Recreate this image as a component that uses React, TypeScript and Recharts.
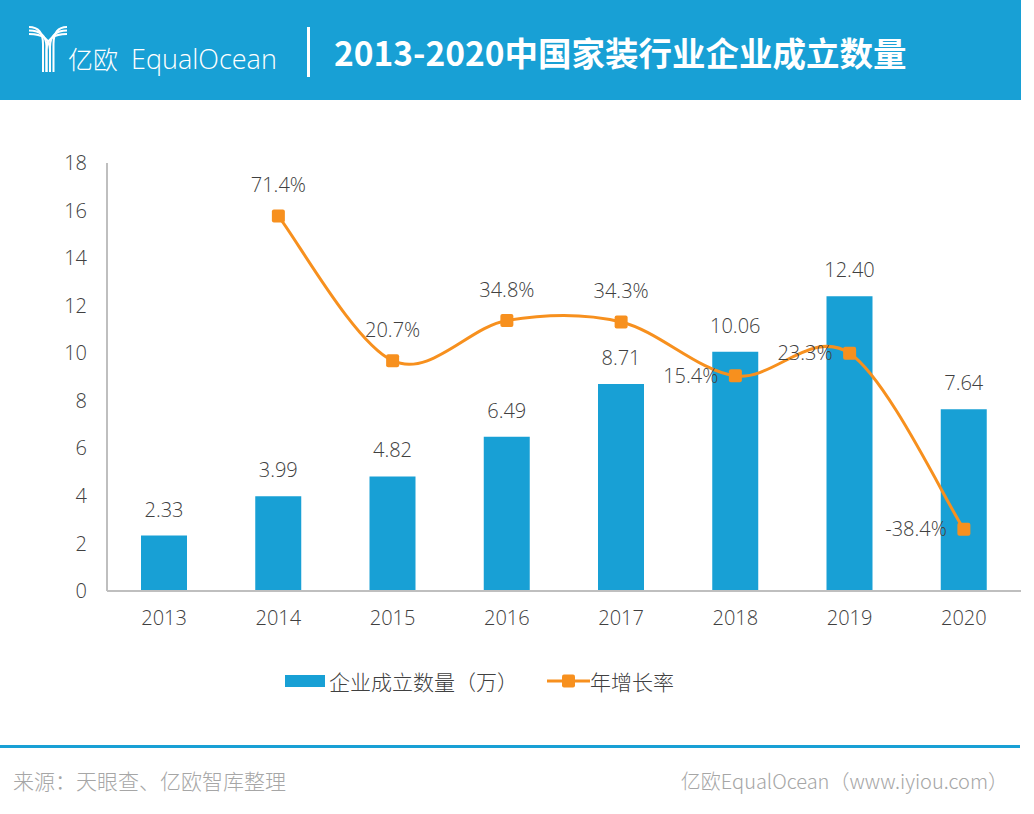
import React from "react";
import {
  Bar,
  ComposedChart,
  LabelList,
  Line,
  XAxis,
  YAxis,
} from "recharts";

const years = ["2013", "2014", "2015", "2016", "2017", "2018", "2019", "2020"];
const companyCounts = [2.33, 3.99, 4.82, 6.49, 8.71, 10.06, 12.4, 7.64];
const growthRates = [null, 71.4, 20.7, 34.8, 34.3, 15.4, 23.3, -38.4];
const countTicks = [0, 2, 4, 6, 8, 10, 12, 14, 16, 18];

const BLUE = "#18a0d5";
const ORANGE = "#f7901e";
const TEXT = "#404040";
const NUM_FONT = "'Open Sans', 'Noto Sans CJK SC', sans-serif";
const CJK_FONT = "'Noto Sans CJK SC', 'Open Sans', sans-serif";

// rate labels drawn to the left of the point instead of above
const leftLabelYears = ["2018", "2019", "2020"];

const data = years.map((year, i) => ({
  year,
  count: companyCounts[i],
  rate: growthRates[i],
}));

// Catmull-Rom style smoothing, close to Excel's "smoothed line"
const smoothCurve = (context: any) => {
  let pts: number[][] = [];
  return {
    areaStart() {},
    areaEnd() {},
    lineStart() {
      pts = [];
    },
    point(x: number, y: number) {
      pts.push([+x, +y]);
    },
    lineEnd() {
      if (!pts.length) return;
      context.moveTo(pts[0][0], pts[0][1]);
      for (let i = 0; i < pts.length - 1; i++) {
        const p0 = pts[i - 1] || pts[i];
        const p1 = pts[i];
        const p2 = pts[i + 1];
        const p3 = pts[i + 2] || p2;
        context.bezierCurveTo(
          p1[0] + (p2[0] - p0[0]) / 6,
          p1[1] + (p2[1] - p0[1]) / 6,
          p2[0] - (p3[0] - p1[0]) / 6,
          p2[1] - (p3[1] - p1[1]) / 6,
          p2[0],
          p2[1]
        );
      }
    },
  };
};

const SquareDot = (props: any) => {
  const { cx, cy, value } = props;
  if (value == null || cx == null || cy == null) return null;
  return <rect x={cx - 6.5} y={cy - 6.5} width={13} height={13} rx={2} fill={ORANGE} />;
};

const RateLabel = (props: any) => {
  const { x, y, value, index } = props;
  if (value == null) return null;
  const left = leftLabelYears.includes(years[index]);
  return (
    <text
      x={left ? x - 17 : x}
      y={left ? y + 7 : y - 24}
      textAnchor={left ? "end" : "middle"}
      fill={TEXT}
      fontSize={20}
      fontFamily={NUM_FONT}
      fontWeight={300}
    >
      {value}%
    </text>
  );
};

function Logo() {
  const stems = [43, 46.5, 50, 53.5];
  return (
    <svg width={300} height={100} style={{ position: "absolute", left: 0, top: 0 }}>
      <g stroke="#fff" strokeWidth={2} fill="none">
        {[0, 1, 2].map((i) => (
          <path
            key={"l" + i}
            d={`M 29 ${27 + i * 3.5} Q ${stems[i]} ${27 + i * 3.5} ${stems[i]} ${44 + i * 3} L ${stems[i]} 72`}
          />
        ))}
        {[0, 1, 2].map((i) => (
          <path
            key={"r" + i}
            d={`M 67 ${27 + i * 3.5} Q ${stems[3 - i]} ${27 + i * 3.5} ${stems[3 - i]} ${44 + i * 3} L ${stems[3 - i]} 72`}
          />
        ))}
      </g>
      <text x={68} y={69} fill="#fff" fontSize={25} fontFamily={CJK_FONT} fontWeight={300}>
        亿欧
      </text>
      <text x={131} y={69} fill="#fff" fontSize={27} fontFamily="'Open Sans', sans-serif" fontWeight={300}>
        EqualOcean
      </text>
    </svg>
  );
}

export default function App() {
  return (
    <div
      style={{
        position: "absolute",
        left: 0,
        top: 0,
        width: 1034,
        height: 814,
        background: "#fff",
        overflow: "hidden",
      }}
    >
      <div style={{ position: "absolute", left: 0, top: 0, width: 1021, height: 100, background: BLUE }} />
      <Logo />
      <div style={{ position: "absolute", left: 307, top: 27, width: 3, height: 50, background: "#fff" }} />
      <div
        style={{
          position: "absolute",
          left: 334,
          top: 27,
          color: "#fff",
          fontSize: 33.5,
          fontWeight: 700,
          fontFamily: CJK_FONT,
          lineHeight: "50px",
          whiteSpace: "nowrap",
        }}
      >
        2013-2020中国家装行业企业成立数量
      </div>

      <div style={{ position: "absolute", left: 0, top: 0 }}>
        <ComposedChart
          width={1034}
          height={814}
          data={data}
          margin={{ top: 163, right: 13, bottom: 183, left: 0 }}
        >
          <XAxis
            dataKey="year"
            height={40}
            tickLine={false}
            tickSize={0}
            tickMargin={20}
            axisLine={{ stroke: "#bfbfbf", strokeWidth: 2 }}
            tick={{ fill: TEXT, fontSize: 20, fontFamily: NUM_FONT, fontWeight: 300 }}
          />
          <YAxis
            yAxisId="count"
            width={107}
            domain={[0, 18]}
            ticks={countTicks}
            tickLine={false}
            tickSize={0}
            tickMargin={20}
            axisLine={{ stroke: "#bfbfbf", strokeWidth: 2 }}
            tick={{ fill: TEXT, fontSize: 20, fontFamily: NUM_FONT, fontWeight: 300 }}
          />
          <YAxis yAxisId="rate" orientation="right" domain={[-60, 90]} hide />
          <Bar yAxisId="count" dataKey="count" fill={BLUE} barSize={46} isAnimationActive={false}>
            <LabelList
              dataKey="count"
              position="top"
              offset={19}
              formatter={(v: any) => Number(v).toFixed(2)}
              style={{ fill: TEXT, fontSize: 20, fontFamily: NUM_FONT, fontWeight: 300 }}
            />
          </Bar>
          <Line
            yAxisId="rate"
            dataKey="rate"
            type={smoothCurve as any}
            stroke={ORANGE}
            strokeWidth={3}
            dot={<SquareDot />}
            activeDot={false}
            isAnimationActive={false}
          >
            <LabelList dataKey="rate" content={<RateLabel />} />
          </Line>
        </ComposedChart>
      </div>

      {/* legend */}
      <div style={{ position: "absolute", left: 285, top: 675, width: 40, height: 12, background: BLUE }} />
      <div
        style={{
          position: "absolute",
          left: 329,
          top: 666,
          fontSize: 21,
          color: TEXT,
          fontFamily: CJK_FONT,
          lineHeight: "30px",
          fontWeight: 300,
          whiteSpace: "nowrap",
        }}
      >
        企业成立数量（万）
      </div>
      <svg width={50} height={20} style={{ position: "absolute", left: 545, top: 671 }}>
        <line x1={2} y1={10} x2={45} y2={10} stroke={ORANGE} strokeWidth={3} />
        <rect x={17} y={3.5} width={13} height={13} rx={2} fill={ORANGE} />
      </svg>
      <div
        style={{
          position: "absolute",
          left: 590,
          top: 666,
          fontSize: 21,
          color: TEXT,
          fontFamily: CJK_FONT,
          lineHeight: "30px",
          fontWeight: 300,
          whiteSpace: "nowrap",
        }}
      >
        年增长率
      </div>

      {/* footer */}
      <div style={{ position: "absolute", left: 0, top: 745, width: 1020, height: 3, background: BLUE }} />
      <div
        style={{
          position: "absolute",
          left: 13,
          top: 765,
          fontSize: 21,
          color: "#a6a6a6",
          fontFamily: CJK_FONT,
          fontWeight: 300,
          lineHeight: "30px",
          whiteSpace: "nowrap",
        }}
      >
        来源：天眼查、亿欧智库整理
      </div>
      <div
        style={{
          position: "absolute",
          right: 26,
          top: 766,
          fontSize: 20,
          color: "#a6a6a6",
          fontFamily: CJK_FONT,
          fontWeight: 300,
          lineHeight: "30px",
          whiteSpace: "nowrap",
        }}
      >
        亿欧EqualOcean（www.iyiou.com）
      </div>
    </div>
  );
}
